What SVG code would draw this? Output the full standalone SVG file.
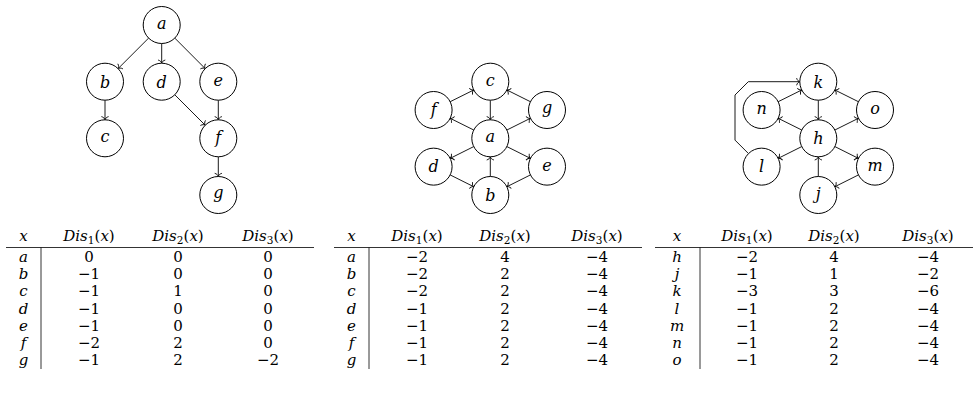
<svg xmlns="http://www.w3.org/2000/svg" width="979" height="409" viewBox="0 0 979 409">
<style>
.node circle{fill:#fff;stroke:#000;stroke-width:1}
.lbl{font-family:'DejaVu Serif','Liberation Serif',serif;font-style:italic;font-size:16px;text-anchor:middle}
.edges line,.edges polyline{stroke:#000;stroke-width:0.9;fill:none;marker-end:url(#arr)}
.t{font-family:'DejaVu Serif','Liberation Serif',serif;font-size:15px;text-anchor:middle}
.i{font-style:italic}
.rule{stroke:#000;stroke-width:0.8}
</style>
<defs>
<marker id="arr" markerUnits="userSpaceOnUse" markerWidth="10" markerHeight="10" viewBox="-5 -5 10 10" refX="0" refY="0" orient="auto" overflow="visible">
<path d="M-3.2,-3.6 C-2.6,-1.4 -1.2,-0.3 0,0 C-1.2,0.3 -2.6,1.4 -3.2,3.6" fill="none" stroke="#000" stroke-width="0.9"/>
</marker>
</defs>

<g class="edges" id="connectors">
<line x1="148.6" y1="38.1" x2="118.1" y2="68.6"/>
<line x1="161.7" y1="43.5" x2="161.7" y2="63.2"/>
<line x1="174.8" y1="38.1" x2="205.2" y2="68.6"/>
<line x1="105" y1="100.2" x2="105" y2="119.8"/>
<line x1="174.8" y1="94.8" x2="205.2" y2="125.2"/>
<line x1="218.3" y1="100.2" x2="218.3" y2="119.8"/>
<line x1="218.3" y1="156.8" x2="218.3" y2="176.5"/>

<line x1="490.3" y1="100.2" x2="490.3" y2="119.8"/>
<line x1="450.15" y1="101.73" x2="473.75" y2="89.97"/>
<line x1="530.45" y1="101.73" x2="506.85" y2="89.97"/>
<line x1="473.75" y1="130.03" x2="450.15" y2="118.27"/>
<line x1="506.85" y1="130.03" x2="530.45" y2="118.27"/>
<line x1="473.75" y1="146.57" x2="450.15" y2="158.38"/>
<line x1="506.85" y1="146.57" x2="530.45" y2="158.38"/>
<line x1="450.15" y1="174.92" x2="473.75" y2="186.73"/>
<line x1="530.45" y1="174.92" x2="506.85" y2="186.73"/>
<line x1="490.3" y1="176.5" x2="490.3" y2="156.8"/>

<line x1="818.3" y1="100.2" x2="818.3" y2="119.8"/>
<line x1="778.15" y1="101.73" x2="801.75" y2="89.97"/>
<line x1="858.45" y1="101.73" x2="834.85" y2="89.97"/>
<line x1="801.75" y1="130.03" x2="778.15" y2="118.27"/>
<line x1="834.85" y1="130.03" x2="858.45" y2="118.27"/>
<line x1="801.75" y1="146.57" x2="778.15" y2="158.38"/>
<line x1="834.85" y1="146.57" x2="858.45" y2="158.38"/>
<line x1="858.45" y1="174.92" x2="834.85" y2="186.73"/>
<line x1="818.3" y1="176.5" x2="818.3" y2="156.8"/>
<polyline points="748.5,153.6 735,140.1 735,95 748.3,81.7 799.8,81.7"/>
</g>

<g id="g1-a" class="node"><circle cx="161.7" cy="25" r="18.5"/><text class="lbl" x="161.7" y="29">a</text></g>
<g id="g1-b" class="node"><circle cx="105" cy="81.7" r="18.5"/><text class="lbl" x="105" y="87.5">b</text></g>
<g id="g1-d" class="node"><circle cx="161.7" cy="81.7" r="18.5"/><text class="lbl" x="161.7" y="87.5">d</text></g>
<g id="g1-e" class="node"><circle cx="218.3" cy="81.7" r="18.5"/><text class="lbl" x="218.3" y="85.7">e</text></g>
<g id="g1-c" class="node"><circle cx="105" cy="138.3" r="18.5"/><text class="lbl" x="105" y="142.3">c</text></g>
<g id="g1-f" class="node"><circle cx="218.3" cy="138.3" r="18.5"/><text class="lbl" x="218.3" y="142.8">f</text></g>
<g id="g1-g" class="node"><circle cx="218.3" cy="195" r="18.5"/><text class="lbl" x="218.3" y="197.5">g</text></g>

<g id="g2-c" class="node"><circle cx="490.3" cy="81.7" r="18.5"/><text class="lbl" x="490.3" y="85.7">c</text></g>
<g id="g2-f" class="node"><circle cx="433.6" cy="110" r="18.5"/><text class="lbl" x="433.6" y="114.5">f</text></g>
<g id="g2-g" class="node"><circle cx="547" cy="110" r="18.5"/><text class="lbl" x="547" y="112.5">g</text></g>
<g id="g2-a" class="node"><circle cx="490.3" cy="138.3" r="18.5"/><text class="lbl" x="490.3" y="142.3">a</text></g>
<g id="g2-d" class="node"><circle cx="433.6" cy="166.65" r="18.5"/><text class="lbl" x="433.6" y="172.4">d</text></g>
<g id="g2-e" class="node"><circle cx="547" cy="166.65" r="18.5"/><text class="lbl" x="547" y="170.6">e</text></g>
<g id="g2-b" class="node"><circle cx="490.3" cy="195" r="18.5"/><text class="lbl" x="490.3" y="200.8">b</text></g>

<g id="g3-k" class="node"><circle cx="818.3" cy="81.7" r="18.5"/><text class="lbl" x="818.3" y="87.5">k</text></g>
<g id="g3-n" class="node"><circle cx="761.6" cy="110" r="18.5"/><text class="lbl" x="761.6" y="114">n</text></g>
<g id="g3-o" class="node"><circle cx="875" cy="110" r="18.5"/><text class="lbl" x="875" y="114">o</text></g>
<g id="g3-h" class="node"><circle cx="818.3" cy="138.3" r="18.5"/><text class="lbl" x="818.3" y="144.1">h</text></g>
<g id="g3-l" class="node"><circle cx="761.6" cy="166.65" r="18.5"/><text class="lbl" x="761.6" y="172.4">l</text></g>
<g id="g3-m" class="node"><circle cx="875" cy="166.65" r="18.5"/><text class="lbl" x="875" y="170.6">m</text></g>
<g id="g3-j" class="node"><circle cx="818.3" cy="195" r="18.5"/><text class="lbl" x="818.3" y="198.5">j</text></g>

<g id="table1">
<line class="rule" x1="6" y1="247.5" x2="314" y2="247.5"/>
<line class="rule" x1="41" y1="247.5" x2="41" y2="369"/>
<text class="t i" x="23.5" y="240.5">x</text>
<text class="t" x="89" y="240.5"><tspan class="i">Dis</tspan><tspan font-size="10.5" dy="3">1</tspan><tspan dy="-3">(</tspan><tspan class="i">x</tspan>)</text>
<text class="t" x="178" y="240.5"><tspan class="i">Dis</tspan><tspan font-size="10.5" dy="3">2</tspan><tspan dy="-3">(</tspan><tspan class="i">x</tspan>)</text>
<text class="t" x="268" y="240.5"><tspan class="i">Dis</tspan><tspan font-size="10.5" dy="3">3</tspan><tspan dy="-3">(</tspan><tspan class="i">x</tspan>)</text>
<text class="t i" x="23.5" y="262">a</text><text class="t" x="89" y="262">0</text><text class="t" x="178" y="262">0</text><text class="t" x="268" y="262">0</text>
<text class="t i" x="23.5" y="279.2">b</text><text class="t" x="89" y="279.2">−1</text><text class="t" x="178" y="279.2">0</text><text class="t" x="268" y="279.2">0</text>
<text class="t i" x="23.5" y="296.3">c</text><text class="t" x="89" y="296.3">−1</text><text class="t" x="178" y="296.3">1</text><text class="t" x="268" y="296.3">0</text>
<text class="t i" x="23.5" y="313.5">d</text><text class="t" x="89" y="313.5">−1</text><text class="t" x="178" y="313.5">0</text><text class="t" x="268" y="313.5">0</text>
<text class="t i" x="23.5" y="330.6">e</text><text class="t" x="89" y="330.6">−1</text><text class="t" x="178" y="330.6">0</text><text class="t" x="268" y="330.6">0</text>
<text class="t i" x="23.5" y="347.8">f</text><text class="t" x="89" y="347.8">−2</text><text class="t" x="178" y="347.8">2</text><text class="t" x="268" y="347.8">0</text>
<text class="t i" x="23.5" y="364.9">g</text><text class="t" x="89" y="364.9">−1</text><text class="t" x="178" y="364.9">2</text><text class="t" x="268" y="364.9">−2</text>
</g>

<g id="table2">
<line class="rule" x1="334" y1="247.5" x2="642" y2="247.5"/>
<line class="rule" x1="369" y1="247.5" x2="369" y2="369"/>
<text class="t i" x="351.5" y="240.5">x</text>
<text class="t" x="417" y="240.5"><tspan class="i">Dis</tspan><tspan font-size="10.5" dy="3">1</tspan><tspan dy="-3">(</tspan><tspan class="i">x</tspan>)</text>
<text class="t" x="505" y="240.5"><tspan class="i">Dis</tspan><tspan font-size="10.5" dy="3">2</tspan><tspan dy="-3">(</tspan><tspan class="i">x</tspan>)</text>
<text class="t" x="597" y="240.5"><tspan class="i">Dis</tspan><tspan font-size="10.5" dy="3">3</tspan><tspan dy="-3">(</tspan><tspan class="i">x</tspan>)</text>
<text class="t i" x="351.5" y="262">a</text><text class="t" x="417" y="262">−2</text><text class="t" x="505" y="262">4</text><text class="t" x="597" y="262">−4</text>
<text class="t i" x="351.5" y="279.2">b</text><text class="t" x="417" y="279.2">−2</text><text class="t" x="505" y="279.2">2</text><text class="t" x="597" y="279.2">−4</text>
<text class="t i" x="351.5" y="296.3">c</text><text class="t" x="417" y="296.3">−2</text><text class="t" x="505" y="296.3">2</text><text class="t" x="597" y="296.3">−4</text>
<text class="t i" x="351.5" y="313.5">d</text><text class="t" x="417" y="313.5">−1</text><text class="t" x="505" y="313.5">2</text><text class="t" x="597" y="313.5">−4</text>
<text class="t i" x="351.5" y="330.6">e</text><text class="t" x="417" y="330.6">−1</text><text class="t" x="505" y="330.6">2</text><text class="t" x="597" y="330.6">−4</text>
<text class="t i" x="351.5" y="347.8">f</text><text class="t" x="417" y="347.8">−1</text><text class="t" x="505" y="347.8">2</text><text class="t" x="597" y="347.8">−4</text>
<text class="t i" x="351.5" y="364.9">g</text><text class="t" x="417" y="364.9">−1</text><text class="t" x="505" y="364.9">2</text><text class="t" x="597" y="364.9">−4</text>
</g>

<g id="table3">
<line class="rule" x1="655" y1="247.5" x2="973" y2="247.5"/>
<line class="rule" x1="700" y1="247.5" x2="700" y2="369"/>
<text class="t i" x="677" y="240.5">x</text>
<text class="t" x="747" y="240.5"><tspan class="i">Dis</tspan><tspan font-size="10.5" dy="3">1</tspan><tspan dy="-3">(</tspan><tspan class="i">x</tspan>)</text>
<text class="t" x="834" y="240.5"><tspan class="i">Dis</tspan><tspan font-size="10.5" dy="3">2</tspan><tspan dy="-3">(</tspan><tspan class="i">x</tspan>)</text>
<text class="t" x="928" y="240.5"><tspan class="i">Dis</tspan><tspan font-size="10.5" dy="3">3</tspan><tspan dy="-3">(</tspan><tspan class="i">x</tspan>)</text>
<text class="t i" x="677" y="262">h</text><text class="t" x="747" y="262">−2</text><text class="t" x="834" y="262">4</text><text class="t" x="928" y="262">−4</text>
<text class="t i" x="677" y="279.2">j</text><text class="t" x="747" y="279.2">−1</text><text class="t" x="834" y="279.2">1</text><text class="t" x="928" y="279.2">−2</text>
<text class="t i" x="677" y="296.3">k</text><text class="t" x="747" y="296.3">−3</text><text class="t" x="834" y="296.3">3</text><text class="t" x="928" y="296.3">−6</text>
<text class="t i" x="677" y="313.5">l</text><text class="t" x="747" y="313.5">−1</text><text class="t" x="834" y="313.5">2</text><text class="t" x="928" y="313.5">−4</text>
<text class="t i" x="677" y="330.6">m</text><text class="t" x="747" y="330.6">−1</text><text class="t" x="834" y="330.6">2</text><text class="t" x="928" y="330.6">−4</text>
<text class="t i" x="677" y="347.8">n</text><text class="t" x="747" y="347.8">−1</text><text class="t" x="834" y="347.8">2</text><text class="t" x="928" y="347.8">−4</text>
<text class="t i" x="677" y="364.9">o</text><text class="t" x="747" y="364.9">−1</text><text class="t" x="834" y="364.9">2</text><text class="t" x="928" y="364.9">−4</text>
</g>
</svg>
